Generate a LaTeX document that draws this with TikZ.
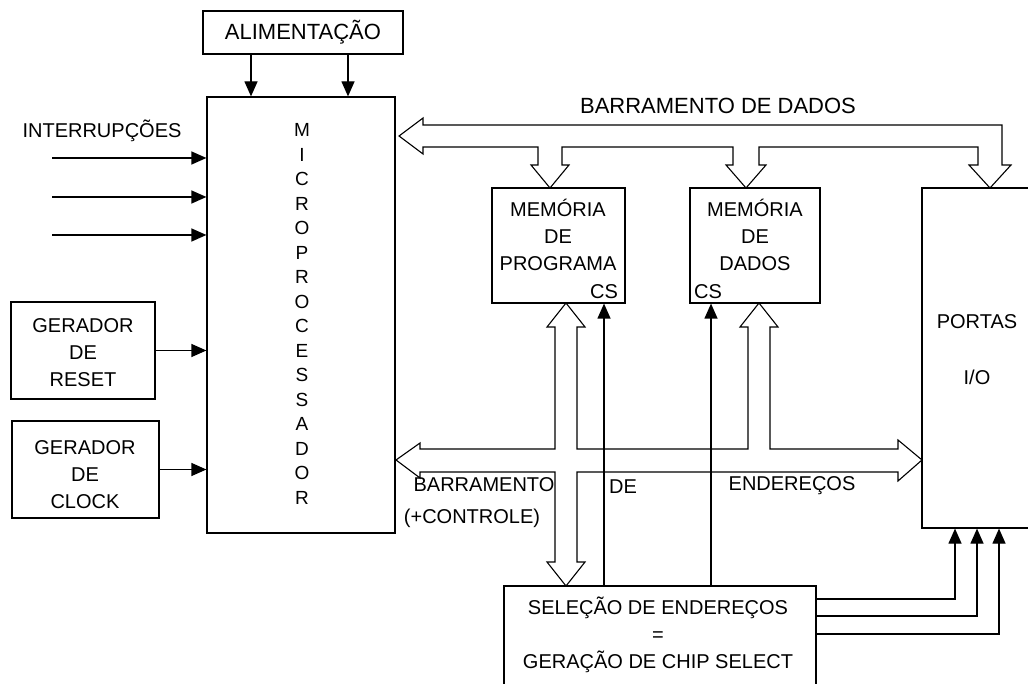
\documentclass[tikz,border=0pt]{standalone}
\usepackage{fontspec}
\setmainfont{Liberation Sans}
\usetikzlibrary{arrows.meta,calc}
\tikzset{
    % Block boxes
    block/.style={draw, line width=1.2pt, inner sep=0pt},
    % Text styles
    lbl/.style={font=\fontsize{20}{27}\selectfont, align=center, inner sep=0pt},
    biglbl/.style={font=\fontsize{22}{26}\selectfont, inner sep=0pt},
    uplbl/.style={font=\fontsize{19}{20}\selectfont, inner sep=0pt},
}
\tikzset{
    % Signal lines and hollow buses
    sig/.style={-{Triangle[length=15pt,width=13pt]}, line width=1.2pt},
    bus/.style={draw, line width=1.1pt, line join=miter},
}

\begin{document}
\begin{tikzpicture}[x=1pt,y=-1pt]
    \clip (0,0) rectangle (1028,684);
    % blocks
    \node[block,biglbl,minimum width=200pt,minimum height=43pt] (alim) at (303,32.5) {ALIMENTAÇÃO};
    \node[block,minimum width=188pt,minimum height=436pt] (micro) at (301,315) {};
    \node[block,minimum width=144pt,minimum height=97pt] (reset) at (83,350.5) {};
    \node[block,minimum width=147pt,minimum height=97pt] (clock) at (85.5,469.5) {};
    \node[block,minimum width=133pt,minimum height=115pt] (memprog) at (558.5,245.5) {};
    \node[block,minimum width=130pt,minimum height=115pt] (memdados) at (755,245.5) {};
    \node[block,minimum width=110pt,minimum height=340pt] (portas) at (977,358) {};
    \node[block,minimum width=312pt,minimum height=104pt] (selecao) at (660,638) {};

    % texts
    \foreach \c [count=\i] in {M,I,C,R,O,P,R,O,C,E,S,S,A,D,O,R}
        \node[uplbl] (m\i) at (302,{130+24.5*(\i-1)}) {\c};
    \node[lbl] (inttxt) at (102,131) {INTERRUPÇÕES};
    \node[lbl] (resettxt) at (83,353) {GERADOR\\DE\\RESET};
    \node[lbl] (clocktxt) at (85,475) {GERADOR\\DE\\CLOCK};
    \node[lbl] (progtxt) at (558,235) {MEMÓRIA\\DE\\PROGRAMA};
    \node[lbl] (dadostxt) at (755,235) {MEMÓRIA\\DE\\DADOS};
    \node[lbl] (cs1txt) at (604,292) {CS};
    \node[lbl] (cs2txt) at (708,292) {CS};
    \node[lbl] (portastxt) at (977,322) {PORTAS};
    \node[lbl] (iotxt) at (977,377) {I/O};
    \node[biglbl] (dbustxt) at (718,106) {BARRAMENTO DE DADOS};
    \node[lbl] (abustxt) at (484,485) {BARRAMENTO};
    \node[lbl] (ctrltxt) at (472,518) {(+CONTROLE)};
    \node[lbl] (detxt) at (623,487) {DE};
    \node[lbl] (endtxt) at (792,486) {ENDEREÇOS};
    \node[lbl] (seltxt) at (658,634.5) {SELEÇÃO DE ENDEREÇOS\\=\\GERAÇÃO DE CHIP SELECT};

    % power and inputs
    \foreach \x in {251,348}
        \draw[sig] (alim.south -| \x,0) -- (micro.north -| \x,0);
    \foreach \y [count=\i] in {158,197,235}{
        \coordinate (int\i) at (52,\y);
        \draw[sig] (int\i) -- (int\i -| micro.west);
    }
    \draw[sig] (reset.east) -- (reset.east -| micro.west);
    \draw[sig] (clock.east) -- (clock.east -| micro.west);

    % data bus
    \draw[bus] (399,136) -- (423,118) -- (423,125) -- (1002,125) -- (1002,165) -- (1011,165)
        -- (990,188) -- (969,165) -- (978,165) -- (978,147) -- (759,147) -- (759,165) -- (766,165)
        -- (746,188) -- (726,165) -- (733,165) -- (733,147) -- (562,147) -- (562,165) -- (569,165)
        -- (550,188) -- (531,165) -- (538,165) -- (538,147) -- (423,147) -- (423,154) -- cycle;

    % address bus
    \draw[bus] (396,460) -- (420,443) -- (420,449) -- (555,449) -- (555,327) -- (547,327)
        -- (566,303) -- (585,327) -- (577,327) -- (577,449) -- (748,449) -- (748,327) -- (740,327)
        -- (759,303) -- (778,327) -- (770,327) -- (770,449) -- (898,449) -- (898,440)
        -- (922,460) -- (898,481) -- (898,472) -- (577,472) -- (577,562) -- (585,562)
        -- (566,586) -- (547,562) -- (555,562) -- (555,472) -- (420,472) -- (420,478) -- cycle;

    % chip selects
    \coordinate (cs1) at (604,0);
    \coordinate (cs2) at (711,0);
    \draw[sig] (selecao.north -| cs1) -- (memprog.south -| cs1);
    \draw[sig] (selecao.north -| cs2) -- (memdados.south -| cs2);
    \foreach \y/\x in {599/955,616/977,634/999}
        \draw[sig] (selecao.east |- 0,\y) -| (portas.south -| \x,0);
\end{tikzpicture}
\end{document}
